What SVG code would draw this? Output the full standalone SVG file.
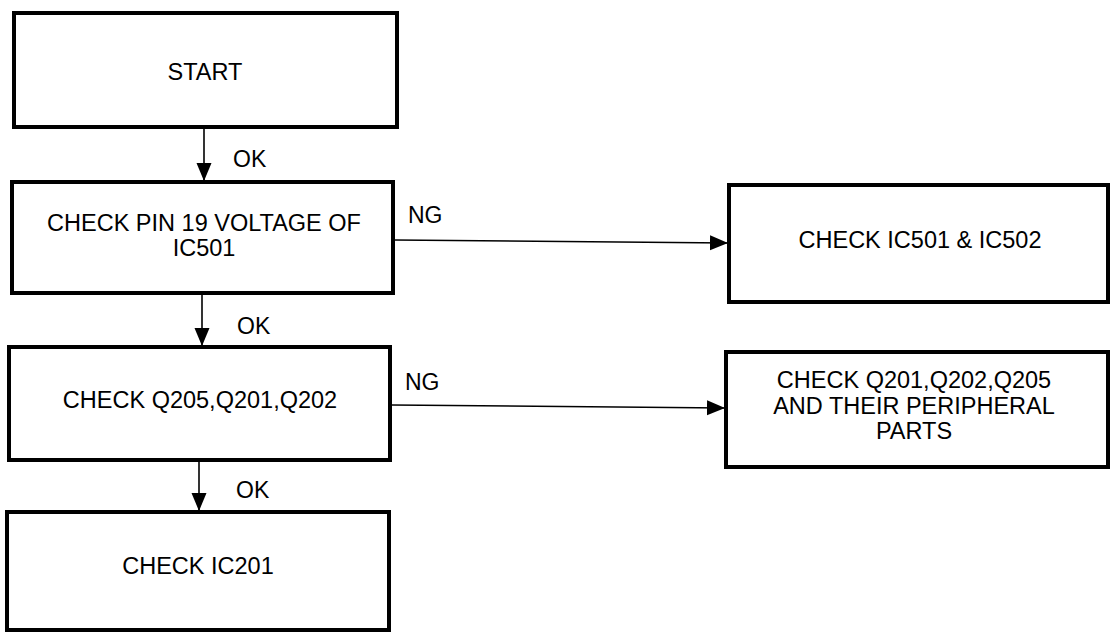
<svg xmlns="http://www.w3.org/2000/svg" width="1113" height="633" viewBox="0 0 1113 633">
<style>
.box{fill:#fff;stroke:#000;stroke-width:4}
.t{font-family:"Liberation Sans",Arial,sans-serif;font-size:23.5px;fill:#000;text-anchor:middle}
.lbl{font-family:"Liberation Sans",Arial,sans-serif;font-size:23px;fill:#000}
.c{stroke:#000;stroke-width:1.6;fill:none}
</style>
<defs>
<marker id="ah" markerUnits="userSpaceOnUse" markerWidth="20" markerHeight="16" refX="18" refY="7.5" orient="auto">
<path d="M0,0 L18,7.5 L0,15 Z" fill="#000"/>
</marker>
</defs>
<rect width="1113" height="633" fill="#fff"/>
<g id="n-start"><rect class="box" x="14" y="13" width="383" height="114"/><text class="t" x="205" y="80">START</text></g>
<g id="n-pin19"><rect class="box" x="12" y="182" width="381" height="111"/><text class="t" x="204" y="231">CHECK PIN 19 VOLTAGE OF</text><text class="t" x="204" y="256">IC501</text></g>
<g id="n-q205"><rect class="box" x="9" y="347" width="381" height="113"/><text class="t" x="200" y="408">CHECK Q205,Q201,Q202</text></g>
<g id="n-ic201"><rect class="box" x="7" y="512" width="382" height="118"/><text class="t" x="198" y="574">CHECK IC201</text></g>
<g id="n-ic501"><rect class="box" x="729" y="185" width="379" height="117"/><text class="t" x="920" y="248">CHECK IC501 &amp; IC502</text></g>
<g id="n-q201"><rect class="box" x="726" y="352" width="382" height="115"/><text class="t" x="914" y="388">CHECK Q201,Q202,Q205</text><text class="t" x="914" y="414">AND THEIR PERIPHERAL</text><text class="t" x="914" y="439">PARTS</text></g>
<g id="connectors">
<line class="c" x1="204" y1="127" x2="204" y2="181" marker-end="url(#ah)"/>
<line class="c" x1="202" y1="293" x2="202" y2="346" marker-end="url(#ah)"/>
<line class="c" x1="199" y1="460" x2="199" y2="511" marker-end="url(#ah)"/>
<line class="c" x1="395" y1="240" x2="728" y2="243" marker-end="url(#ah)"/>
<line class="c" x1="392" y1="405" x2="725" y2="408" marker-end="url(#ah)"/>
<text class="lbl" x="233" y="167">OK</text>
<text class="lbl" x="237" y="334">OK</text>
<text class="lbl" x="236" y="498">OK</text>
<text class="lbl" x="408" y="223">NG</text>
<text class="lbl" x="405" y="390">NG</text>
</g>
</svg>
